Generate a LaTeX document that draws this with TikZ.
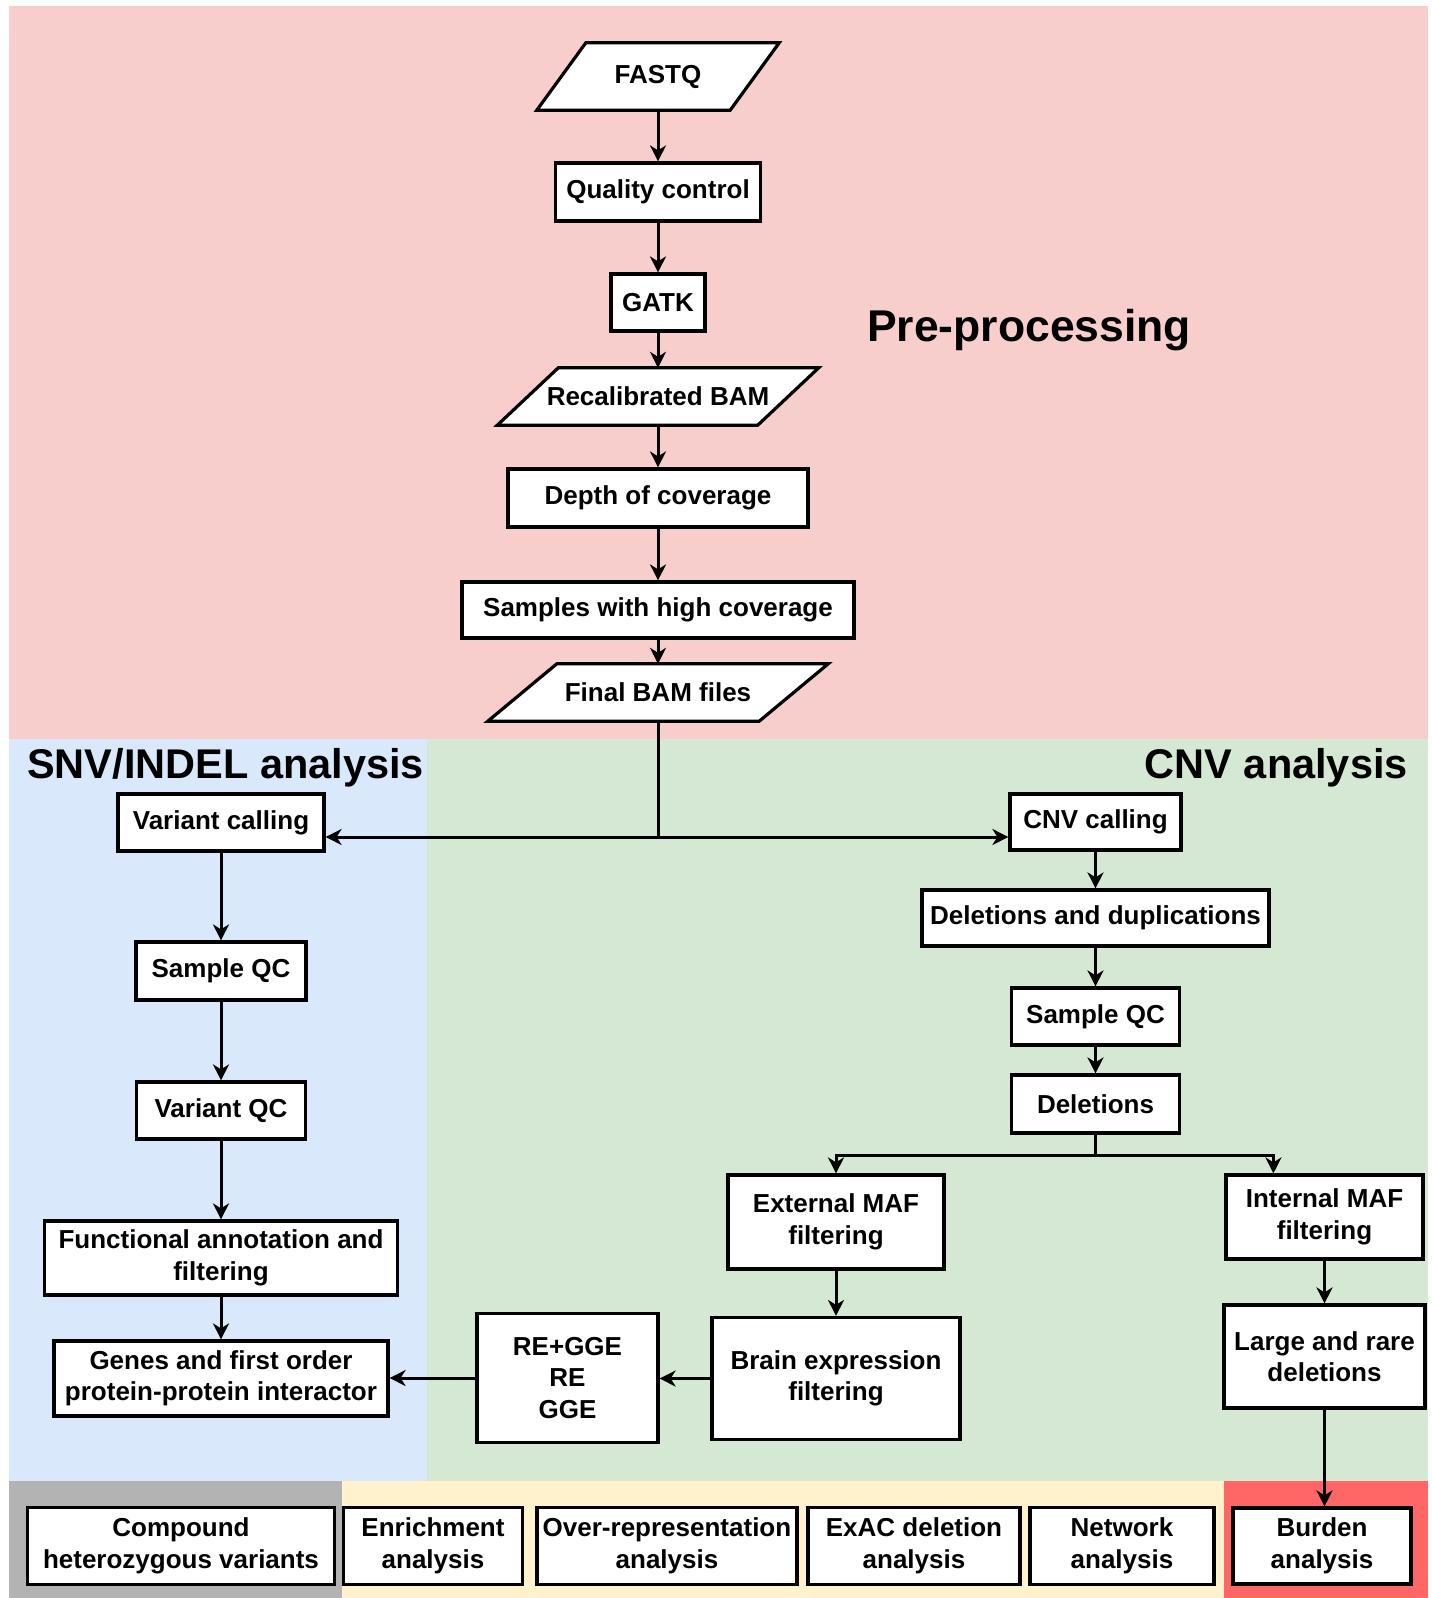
\documentclass[tikz,border=0pt]{standalone}
\usepackage{fontspec}
\setmainfont{Liberation Sans}
\usetikzlibrary{arrows.meta,calc}
\pgfdeclarelayer{bands}
\pgfdeclarelayer{shapes}
\pgfsetlayers{bands,shapes,main}
\definecolor{pinkbg}{HTML}{F8CECC}
\definecolor{bluebg}{HTML}{DAE8FC}
\definecolor{greenbg}{HTML}{D5E8D4}
\definecolor{graybg}{HTML}{B3B3B3}
\definecolor{yellowbg}{HTML}{FFF2CC}
\definecolor{redbg}{HTML}{FF6666}
\begin{document}
\begin{tikzpicture}[x=1bp,y=-1bp,
  every node/.style={font=\fontsize{26bp}{31.5bp}\selectfont\bfseries},
  wh/.style 2 args={minimum width=#1bp,minimum height=#2bp},
  box/.style={draw=black,line width=3.2bp,fill=white,align=center,inner sep=0pt},
  pgnode/.style={align=center,inner sep=0pt},
  pgshape/.style={fill=white,draw=black,line width=3.2bp,line join=miter},
  title/.style={font=\fontsize{41.5bp}{50bp}\selectfont\bfseries,inner sep=0pt},
  link/.style={line width=3bp,draw=black},
  conn/.style={link,-{Stealth[length=16bp,width=16bp,inset=5bp]}}]
\useasboundingbox (0,0) rectangle (1432,1598);
\begin{pgfonlayer}{bands}
  \fill[white] (0,0) rectangle (1432,1598);
  \fill[pinkbg] (9,6) rectangle (1428,739);
  \fill[bluebg] (9,739) rectangle (427,1481);
  \fill[greenbg] (427,739) rectangle (1428,1481);
  \fill[graybg] (9,1481) rectangle (342,1598);
  \fill[yellowbg] (342,1481) rectangle (1224,1598);
  \fill[redbg] (1224,1481) rectangle (1428,1598);
\end{pgfonlayer}

% titles
\node[title,font=\fontsize{44.5bp}{52bp}\selectfont\bfseries,anchor=base] (tpre) at (1029,341) {Pre-processing};
\node[title,anchor=base west] (tsnv) at (27,778) {SNV/INDEL analysis};
\node[title,anchor=base east] (tcnv) at (1408,778) {CNV analysis};

% pre-processing column
\node[pgnode,wh={193}{67}] (fq) at (658,76.5) {FASTQ};
\node[box,wh={205}{58}] (qc) at (658,192) {Quality control};
\node[box,wh={94}{57}] (gatk) at (658,302.5) {GATK};
\node[pgnode,wh={260}{57}] (rb) at (658,396.5) {Recalibrated BAM};
\node[box,wh={300}{58}] (doc) at (658,498) {Depth of coverage};
\node[box,wh={392}{56}] (shc) at (658,610) {Samples with high coverage};
\node[pgnode,wh={271}{57}] (fb) at (658,692.5) {Final BAM files};

\begin{pgfonlayer}{shapes}
  \path[pgshape] ($(fq.north west)+(24.5,0)$) -- ($(fq.north east)+(24.5,0)$) -- ($(fq.south east)+(-24.5,0)$) -- ($(fq.south west)+(-24.5,0)$) -- cycle;
  \path[pgshape] ($(rb.north west)+(30.5,0)$) -- ($(rb.north east)+(30.5,0)$) -- ($(rb.south east)+(-30.5,0)$) -- ($(rb.south west)+(-30.5,0)$) -- cycle;
  \path[pgshape] ($(fb.north west)+(34.5,0)$) -- ($(fb.north east)+(34.5,0)$) -- ($(fb.south east)+(-34.5,0)$) -- ($(fb.south west)+(-34.5,0)$) -- cycle;
\end{pgfonlayer}

% SNV/INDEL column
\node[box,wh={206}{57}] (vc) at (221,822.5) {Variant calling};
\node[box,wh={170}{58}] (sqc) at (221,971) {Sample QC};
\node[box,wh={169}{57}] (vqc) at (221,1110.5) {Variant QC};
\node[box,wh={353}{74}] (fa) at (221,1258) {Functional annotation and\\filtering};
\node[box,wh={334}{75}] (gen) at (221,1378.5) {Genes and first order\\protein-protein interactor};

% CNV column
\node[box,wh={171}{56}] (cnv) at (1095.5,822) {CNV calling};
\node[box,wh={347}{56}] (dd) at (1095.5,918) {Deletions and duplications};
\node[box,wh={168}{57}] (sqc2) at (1095.5,1016.5) {Sample QC};
\node[box,wh={168}{58}] (del) at (1095.5,1104) {Deletions};
\node[box,wh={216}{94}] (ext) at (836,1222) {External MAF\\filtering};
\node[box,wh={197}{84}] (int) at (1324.5,1217) {Internal MAF\\filtering};
\node[box,wh={248}{122}] (bef) at (836,1378.5) {Brain expression\\filtering};
\node[box,wh={181}{129}] (re) at (567.5,1378) {RE+GGE\\RE\\GGE};
\node[box,wh={201}{103}] (lrd) at (1324.5,1356.5) {Large and rare\\deletions};

% bottom row
\node[box,wh={307}{77}] (ch) at (181,1546) {Compound\\heterozygous variants};
\node[box,wh={179}{77}] (ea) at (433,1546) {Enrichment\\analysis};
\node[box,wh={260}{77}] (ora) at (667,1546) {Over-representation\\analysis};
\node[box,wh={212}{77}] (exac) at (914,1546) {ExAC deletion\\analysis};
\node[box,wh={184}{77}] (net) at (1122,1546) {Network\\analysis};
\node[box,wh={178}{76}] (bur) at (1322,1546) {Burden\\analysis};

% connectors: pre-processing
\draw[conn] (fq.south) -- (qc.north);
\draw[conn] (qc.south) -- (gatk.north);
\draw[conn] (gatk.south) -- (rb.north);
\draw[conn] (rb.south) -- (doc.north);
\draw[conn] (doc.south) -- (shc.north);
\draw[conn] (shc.south) -- (fb.north);
\coordinate (j) at (658,837);
\draw[link] (fb.south) -- (j);
\draw[conn] (j) -- (j -| vc.east);
\draw[conn] (j) -- (j -| cnv.west);

% SNV/INDEL
\draw[conn] (vc.south) -- (sqc.north);
\draw[conn] (sqc.south) -- (vqc.north);
\draw[conn] (vqc.south) -- (fa.north);
\draw[conn] (fa.south) -- (gen.north);

% CNV
\draw[conn] (cnv.south) -- (dd.north);
\draw[conn] (dd.south) -- (sqc2.north);
\draw[conn] (sqc2.south) -- (del.north);
\coordinate (k) at (1095.5,1155);
\draw[link] (del.south) -- (k);
\draw[conn] (k) -| (ext.north);
\draw[conn] (k) -| ($(int.north west)+(49,0)$);
\draw[conn] (ext.south) -- (bef.north);
\draw[conn] (bef.west) -- (bef.west -| re.east);
\draw[conn] (re.west) -- (re.west -| gen.east);
\draw[conn] (int.south) -- (lrd.north);
\draw[conn] (lrd.south) -- (lrd.south |- bur.north);
\end{tikzpicture}
\end{document}
